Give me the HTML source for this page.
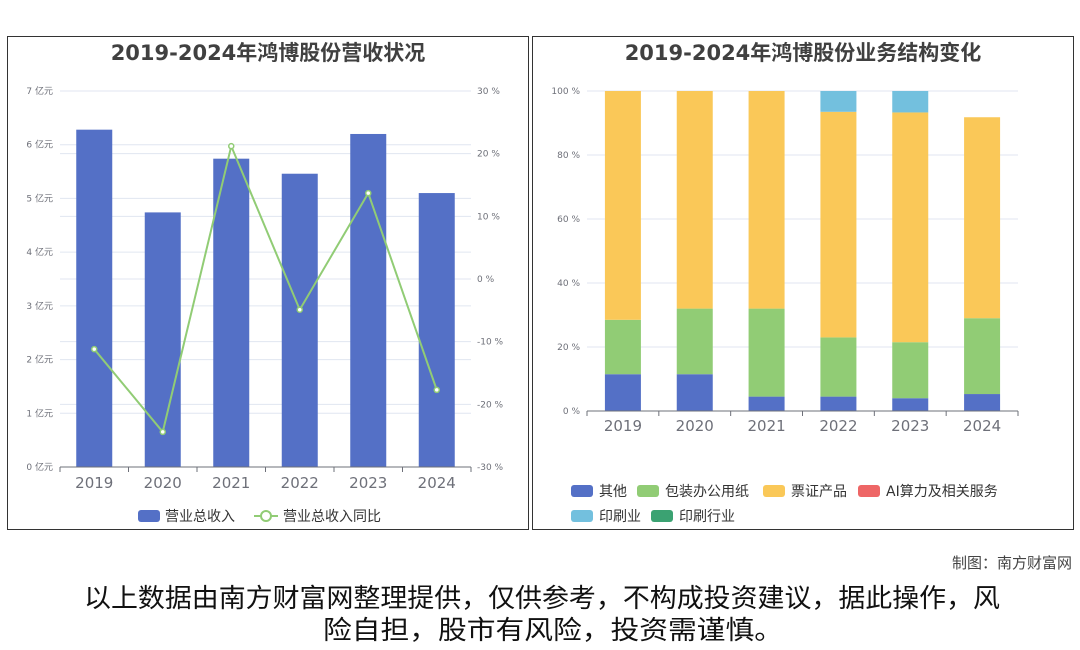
<!DOCTYPE html>
<html><head><meta charset="utf-8"><style>
body{margin:0;width:1080px;height:646px;background:#fff;font-family:"DejaVu Sans","Noto Sans CJK SC",sans-serif;overflow:hidden}
svg text{font-family:"DejaVu Sans","Noto Sans CJK SC",sans-serif}
</style></head><body>
<svg width="1080" height="646">
<rect x="7.5" y="36.5" width="521" height="493" fill="none" stroke="#333"/>
<rect x="532.5" y="36.5" width="541" height="493" fill="none" stroke="#333"/>
<text x="268" y="60" text-anchor="middle" font-size="21" font-weight="bold" fill="#404040">2019-2024年鸿博股份营收状况</text>
<text x="803" y="60" text-anchor="middle" font-size="21" font-weight="bold" fill="#404040">2019-2024年鸿博股份业务结构变化</text>
<g id="left"></g><g id="right"></g>
<text x="1072" y="568" text-anchor="end" font-size="15" fill="#444">制图：南方财富网</text>
<text x="84" y="607" font-size="26" textLength="916" lengthAdjust="spacingAndGlyphs" fill="#111">以上数据由南方财富网整理提供，仅供参考，不构成投资建议，据此操作，风</text>
<text x="323" y="639" font-size="26" textLength="460" lengthAdjust="spacingAndGlyphs" fill="#111">险自担，股市有风险，投资需谨慎。</text>
</svg>
<script>
const years=["2019","2020","2021","2022","2023","2024"];
const revenue=[6.28,4.74,5.74,5.46,6.2,5.1];
const growth=[-11.2,-24.4,21.2,-4.9,13.7,-17.7];
const revTicks=[0,1,2,3,4,5,6,7];
const pctTicks=[-30,-20,-10,0,10,20,30];
const other=[11.5,11.5,4.5,4.5,4,5.3];
const packaging=[17,20.5,27.5,18.5,17.5,23.7];
const tickets=[71.5,68,68,70.5,71.8,62.8];
const aiService=[0,0,0,0,0,0];
const printing=[0,0,0,6.5,6.7,0];
const printIndustry=[0,0,0,0,0,0];
const shareTicks=[0,20,40,60,80,100];
const NS="http://www.w3.org/2000/svg";
function mk(p,t,a,txt){const e=document.createElementNS(NS,t);for(const k in a)e.setAttribute(k,a[k]);if(txt!=null)e.textContent=txt;p.appendChild(e);return e;}
// left
const L=document.getElementById('left');
const lx0=60,lx1=471,ly0=467,ly1=91;
const bw=(lx1-lx0)/years.length;
const yRev=v=>ly0-(v/7)*(ly0-ly1);
const yPct=v=>ly0-((v+30)/60)*(ly0-ly1);
const cx=i=>lx0+bw*(i+0.5);
revTicks.forEach(t=>{const g=mk(L,'line',{x1:lx0,x2:lx1,y1:yRev(t),y2:yRev(t),stroke:'#e0e6f1'});

const tx=mk(L,'text',{x:53,y:yRev(t)+3,'text-anchor':'end','font-size':9,fill:'#6e7079'},t+' 亿元');
});
pctTicks.forEach(t=>{const g=mk(L,'line',{x1:lx0,x2:lx1,y1:yPct(t),y2:yPct(t),stroke:'#e0e6f1'});

const tx=mk(L,'text',{x:477,y:yPct(t)+3,'font-size':9,fill:'#6e7079'},t+' %');
});
revenue.forEach((v,i)=>{const r=mk(L,'rect',{x:cx(i)-18,y:yRev(v),width:36,height:ly0-yRev(v),fill:'#5470c6'});
});
let ax=mk(L,'line',{x1:lx0,x2:lx1,y1:ly0,y2:ly0,stroke:'#6e7079'});
years.forEach((y,i)=>{const tk=mk(L,'line',{x1:lx0+bw*i,x2:lx0+bw*i,y1:ly0,y2:ly0+5,stroke:'#6e7079'});
const t=mk(L,'text',{x:cx(i),y:ly0+21,'text-anchor':'middle','font-size':15,fill:'#6e7079'},y);});
mk(L,'line',{x1:lx1,x2:lx1,y1:ly0,y2:ly0+5,stroke:'#6e7079'});
const pl=mk(L,'polyline',{points:growth.map((v,i)=>cx(i)+','+yPct(v)).join(' '),fill:'none',stroke:'#91cc75','stroke-width':2});

growth.forEach((v,i)=>{const c=mk(L,'circle',{cx:cx(i),cy:yPct(v),r:2.5,fill:'#fff',stroke:'#91cc75','stroke-width':1.5});});
let lg=mk(L,'rect',{x:138,y:510,width:22,height:12,rx:3,fill:'#5470c6'});
let lt=mk(L,'text',{x:165,y:521,'font-size':14,fill:'#333'},'营业总收入');
mk(L,'line',{x1:254,x2:278,y1:516,y2:516,stroke:'#91cc75','stroke-width':2});
let lc=mk(L,'circle',{cx:266,cy:516,r:5,fill:'#fff',stroke:'#91cc75','stroke-width':2});
lt=mk(L,'text',{x:283,y:521,'font-size':14,fill:'#333'},'营业总收入同比');
// right
const R=document.getElementById('right');
const rx0=587,rx1=1018,ry0=411,ry1=91;
const rbw=(rx1-rx0)/years.length;
const ys=v=>ry0-(v/100)*(ry0-ry1);
const rcx=i=>rx0+rbw*(i+0.5);
shareTicks.forEach(t=>{const g=mk(R,'line',{x1:rx0,x2:rx1,y1:ys(t),y2:ys(t),stroke:'#e0e6f1'});
const tx=mk(R,'text',{x:580,y:ys(t)+3,'text-anchor':'end','font-size':9,fill:'#6e7079'},t+' %');});
const series=[["其他",other,'#5470c6'],["包装办公用纸",packaging,'#91cc75'],["票证产品",tickets,'#fac858'],["AI算力及相关服务",aiService,'#ee6666'],["印刷业",printing,'#73c0de'],["印刷行业",printIndustry,'#3ba272']];
years.forEach((y,i)=>{let acc=0;series.forEach(s=>{const v=s[1][i];if(v>0){const r=mk(R,'rect',{x:rcx(i)-18,y:ys(acc+v),width:36,height:ys(acc)-ys(acc+v),fill:s[2]});
}acc+=v;});});
ax=mk(R,'line',{x1:rx0,x2:rx1,y1:ry0,y2:ry0,stroke:'#6e7079'});
years.forEach((y,i)=>{mk(R,'line',{x1:rx0+rbw*i,x2:rx0+rbw*i,y1:ry0,y2:ry0+5,stroke:'#6e7079'});
const t=mk(R,'text',{x:rcx(i),y:ry0+20,'text-anchor':'middle','font-size':15,fill:'#6e7079'},y);});
mk(R,'line',{x1:rx1,x2:rx1,y1:ry0,y2:ry0+5,stroke:'#6e7079'});
const lpos=[[571,491],[637,491],[763,491],[858,491],[571,516],[651,516]];
series.forEach((s,k)=>{const[x,y]=lpos[k];const sw=mk(R,'rect',{x:x,y:y-6,width:22,height:12,rx:3,fill:s[2]});
const t=mk(R,'text',{x:x+28,y:y+5,'font-size':14,fill:'#333'},s[0]);});
</script>
</body></html>
